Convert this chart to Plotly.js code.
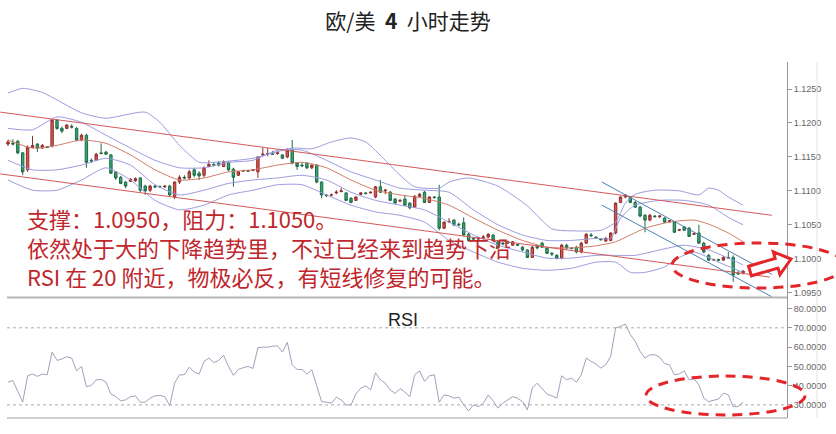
<!DOCTYPE html>
<html><head><meta charset="utf-8">
<script src="https://cdn.plot.ly/plotly-3.0.1.min.js"></script>
<style>html,body{margin:0;padding:0;background:#fff}#c{width:836px;height:434px}</style>
</head><body><div id="c"></div>
<script>
// ---- candle data (4h EUR/USD) ----
const openP  = [1.1169,1.1170,1.1173,1.1156,1.1131,1.1164,1.1169,1.1163,1.1165,1.1166,1.1204,1.1192,1.1192,1.1195,1.1192,1.1175,1.1182,1.1145,1.1145,1.1156,1.1157,1.1153,1.1128,1.1120,1.1113,1.1114,1.1115,1.1119,1.1107,1.1101,1.1107,1.1106,1.1106,1.1107,1.1091,1.1113,1.1120,1.1119,1.1131,1.1126,1.1123,1.1136,1.1139,1.1141,1.1136,1.1142,1.1132,1.1123,1.1129,1.1130,1.1130,1.1128,1.1153,1.1154,1.1155,1.1155,1.1153,1.1150,1.1160,1.1141,1.1138,1.1141,1.1134,1.1138,1.1113,1.1094,1.1094,1.1097,1.1099,1.1097,1.1089,1.1086,1.1095,1.1097,1.1097,1.1091,1.1106,1.1100,1.1098,1.1088,1.1085,1.1088,1.1082,1.1076,1.1092,1.1098,1.1083,1.1091,1.1091,1.1045,1.1054,1.1057,1.1051,1.1053,1.1036,1.1030,1.1029,1.1031,1.1032,1.1035,1.1025,1.1023,1.1025,1.1020,1.1021,1.1017,1.1013,1.1002,1.1019,1.1023,1.1016,1.1008,1.1005,1.1001,1.1020,1.1016,1.1017,1.1010,1.1023,1.1035,1.1032,1.1029,1.1026,1.1027,1.1038,1.1083,1.1091,1.1091,1.1083,1.1076,1.1064,1.1057,1.1063,1.1062,1.1060,1.1055,1.1054,1.1042,1.1047,1.1045,1.1036,1.1038,1.1023,1.1005,1.0998,1.0999,1.0998,1.1002,1.1002,1.0979,1.0979];
const highP  = [1.1175,1.1176,1.1175,1.1157,1.1167,1.1181,1.1170,1.1169,1.1166,1.1206,1.1206,1.1195,1.1198,1.1198,1.1194,1.1184,1.1184,1.1148,1.1156,1.1170,1.1159,1.1154,1.1129,1.1122,1.1114,1.1119,1.1120,1.1120,1.1109,1.1109,1.1109,1.1108,1.1108,1.1109,1.1114,1.1123,1.1123,1.1131,1.1134,1.1129,1.1136,1.1145,1.1142,1.1144,1.1145,1.1144,1.1134,1.1129,1.1131,1.1131,1.1132,1.1151,1.1164,1.1163,1.1159,1.1159,1.1154,1.1163,1.1175,1.1142,1.1141,1.1142,1.1139,1.1139,1.1114,1.1095,1.1096,1.1101,1.1104,1.1098,1.1091,1.1092,1.1098,1.1098,1.1099,1.1107,1.1116,1.1103,1.1100,1.1089,1.1088,1.1094,1.1083,1.1094,1.1097,1.1100,1.1092,1.1092,1.1109,1.1055,1.1060,1.1058,1.1053,1.1061,1.1038,1.1032,1.1032,1.1035,1.1038,1.1036,1.1027,1.1025,1.1027,1.1026,1.1022,1.1019,1.1014,1.1019,1.1020,1.1025,1.1017,1.1010,1.1007,1.1022,1.1022,1.1017,1.1019,1.1025,1.1038,1.1038,1.1033,1.1030,1.1032,1.1039,1.1083,1.1092,1.1095,1.1092,1.1085,1.1078,1.1066,1.1066,1.1064,1.1064,1.1061,1.1057,1.1055,1.1044,1.1048,1.1047,1.1038,1.1050,1.1025,1.1007,1.1000,1.1000,1.1004,1.1010,1.1005,1.0982,1.0983];
const lowP   = [1.1166,1.1167,1.1154,1.1123,1.1128,1.1163,1.1157,1.1162,1.1163,1.1164,1.1190,1.1185,1.1191,1.1192,1.1173,1.1173,1.1134,1.1141,1.1144,1.1154,1.1153,1.1125,1.1116,1.1110,1.1104,1.1113,1.1113,1.1098,1.1094,1.1098,1.1104,1.1105,1.1104,1.1091,1.1088,1.1110,1.1117,1.1117,1.1120,1.1116,1.1120,1.1135,1.1136,1.1136,1.1135,1.1129,1.1106,1.1122,1.1128,1.1128,1.1129,1.1119,1.1151,1.1151,1.1153,1.1153,1.1147,1.1148,1.1139,1.1131,1.1135,1.1132,1.1132,1.1111,1.1089,1.1091,1.1092,1.1095,1.1098,1.1085,1.1082,1.1085,1.1094,1.1095,1.1096,1.1089,1.1097,1.1095,1.1085,1.1081,1.1083,1.1078,1.1073,1.1075,1.1091,1.1082,1.1082,1.1089,1.1042,1.1044,1.1053,1.1048,1.1048,1.1033,1.1026,1.1029,1.1027,1.1030,1.1030,1.1026,1.1014,1.1020,1.1022,1.1019,1.1019,1.1011,1.1001,1.1001,1.1014,1.1016,1.1007,1.1004,1.0999,1.0999,1.1014,1.1014,1.1008,1.1008,1.1022,1.1032,1.1030,1.1027,1.1025,1.1026,1.1036,1.1082,1.1089,1.1082,1.1075,1.1061,1.1039,1.1055,1.1061,1.1060,1.1053,1.1053,1.1038,1.1041,1.1041,1.1032,1.1035,1.1022,1.1008,1.0997,1.0997,1.0996,1.0997,1.1001,1.0966,1.0976,1.0977];
const closeP = [1.1172,1.1169,1.1156,1.1128,1.1164,1.1167,1.1163,1.1167,1.1164,1.1204,1.1192,1.1188,1.1197,1.1194,1.1175,1.1182,1.1142,1.1144,1.1154,1.1155,1.1154,1.1126,1.1119,1.1111,1.1107,1.1117,1.1118,1.1101,1.1100,1.1107,1.1106,1.1106,1.1107,1.1094,1.1113,1.1120,1.1119,1.1128,1.1123,1.1122,1.1134,1.1139,1.1138,1.1138,1.1142,1.1131,1.1120,1.1128,1.1130,1.1129,1.1131,1.1150,1.1154,1.1155,1.1154,1.1156,1.1148,1.1160,1.1141,1.1136,1.1137,1.1134,1.1138,1.1113,1.1094,1.1093,1.1094,1.1098,1.1100,1.1086,1.1083,1.1091,1.1097,1.1096,1.1098,1.1106,1.1098,1.1101,1.1086,1.1082,1.1086,1.1079,1.1075,1.1092,1.1095,1.1083,1.1091,1.1090,1.1045,1.1054,1.1055,1.1050,1.1050,1.1035,1.1027,1.1029,1.1031,1.1032,1.1036,1.1027,1.1016,1.1022,1.1023,1.1025,1.1020,1.1013,1.1002,1.1017,1.1016,1.1017,1.1008,1.1007,1.1001,1.1020,1.1016,1.1015,1.1010,1.1023,1.1036,1.1034,1.1031,1.1028,1.1030,1.1038,1.1082,1.1091,1.1094,1.1083,1.1076,1.1063,1.1057,1.1064,1.1062,1.1063,1.1054,1.1056,1.1039,1.1043,1.1042,1.1033,1.1037,1.1023,1.1010,1.0998,1.0999,1.0998,1.1002,1.1001,1.0976,1.0978,1.0982];
const rsiV = [41.8,42.7,37.0,31.4,45.1,46.1,44.8,46.0,45.6,57.4,53.1,53.8,55.0,54.3,47.7,50.0,39.4,40.1,43.0,43.2,41.8,35.7,34.3,32.1,32.6,34.3,34.7,31.4,31.4,33.5,34.7,34.9,34.3,29.5,41.3,45.6,45.6,49.6,47.0,46.0,52.6,54.3,51.9,53.1,55.7,50.0,45.3,48.4,49.3,50.0,48.9,59.7,60.0,60.0,60.4,60.7,57.4,62.5,50.7,48.4,48.4,46.0,48.2,39.5,31.7,31.4,30.9,34.0,32.6,30.0,30.0,35.7,38.7,39.9,37.8,46.7,43.0,41.3,37.8,35.9,38.5,36.6,34.3,45.6,47.7,42.2,45.1,45.6,31.4,35.2,34.7,33.5,34.0,30.0,26.9,30.0,29.1,30.9,35.2,32.1,28.3,30.9,32.6,34.3,33.5,31.7,27.4,38.7,41.3,38.7,35.6,34.7,33.5,45.1,43.0,43.9,41.8,45.6,54.3,52.6,51.2,49.1,50.8,55.2,69.9,70.8,72.0,66.5,63.0,57.8,54.3,56.0,56.0,54.8,51.4,50.8,45.6,46.1,47.7,43.0,43.5,40.4,33.5,31.7,32.6,33.1,36.1,35.2,29.1,29.1,31.4];

// ---- bands (read at selected bars) ----
const bbOutUpX = [0,3,7,15,20,28,31,35,39,42,50,58,62,66,70,73,77,80,83,88,90,94,100,106,111,116,121,124,126,128,132,137,141,143,145,147,150];
const bbOutUpY = [1.1244,1.1251,1.1245,1.1215,1.1207,1.1216,1.1201,1.1167,1.1142,1.1142,1.1148,1.1163,1.1162,1.1172,1.1178,1.1172,1.1145,1.1123,1.1106,1.1104,1.1113,1.1119,1.1107,1.1078,1.1044,1.1041,1.1042,1.1054,1.1082,1.1095,1.1101,1.1100,1.1094,1.1104,1.1101,1.1091,1.1079];
const bbInUpX = [0,5,10,15,20,25,30,35,40,45,50,55,60,65,70,75,80,85,90,95,100,105,110,115,120,123,125,128,133,138,143,147,150];
const bbInUpY = [1.1192,1.1190,1.1209,1.1201,1.1182,1.1163,1.1145,1.1134,1.1134,1.1142,1.1145,1.1160,1.1160,1.1145,1.1128,1.1116,1.1104,1.1101,1.1098,1.1072,1.1050,1.1035,1.1027,1.1027,1.1030,1.1030,1.1060,1.1079,1.1086,1.1086,1.1079,1.1061,1.1050];
const maX = [0,5,10,15,20,25,30,35,40,45,50,55,60,65,70,75,80,85,90,95,100,105,110,115,120,124,127,130,135,140,143,147,150];
const maY = [1.1175,1.1163,1.1167,1.1175,1.1170,1.1153,1.1131,1.1116,1.1119,1.1128,1.1131,1.1138,1.1142,1.1134,1.1116,1.1101,1.1094,1.1089,1.1079,1.1060,1.1042,1.1027,1.1017,1.1016,1.1019,1.1025,1.1035,1.1045,1.1054,1.1057,1.1051,1.1038,1.1025];
const bbInLoX = [0,5,10,15,20,25,30,35,40,45,50,55,60,65,70,75,80,85,90,95,100,105,110,115,120,124,128,133,138,143,147,150];
const bbInLoY = [1.1145,1.1131,1.1131,1.1138,1.1148,1.1138,1.1109,1.1094,1.1101,1.1111,1.1116,1.1119,1.1123,1.1116,1.1098,1.1086,1.1079,1.1072,1.1054,1.1035,1.1020,1.1010,1.1001,1.1001,1.1005,1.1005,1.1005,1.1013,1.1020,1.1013,1.1001,1.0991];
const bbOutLoX = [0,5,10,15,20,25,30,35,40,45,50,55,60,65,70,75,80,85,90,95,100,105,110,115,120,124,127,130,134,137,140,145,150];
const bbOutLoY = [1.1116,1.1101,1.1101,1.1116,1.1134,1.1116,1.1086,1.1072,1.1079,1.1094,1.1101,1.1109,1.1109,1.1094,1.1079,1.1069,1.1064,1.1054,1.1027,1.1010,1.0995,1.0986,1.0983,1.0986,1.0995,1.0995,1.0980,1.0980,1.0988,1.1002,1.1010,1.0995,1.0980];

// ---- drawn trend lines ----
const trendUpX = [-1.6,155.9], trendUpY = [1.1216,1.1064];
const trendLoX = [-1.6,155.5], trendLoY = [1.1125,1.0973];
const chanAX = [121.2,155.9], chanAY = [1.1113,1.0977];
const chanBX = [121.2,155.9], chanBY = [1.1079,1.0944];

const priceTicks = [1.095,1.100,1.105,1.110,1.115,1.120,1.125];
const priceTickText = ['1.0950','1.1000','1.1050','1.1100','1.1150','1.1200','1.1250'];
const rsiTicks = [30,40,50,60,70,80];
const rsiTickText = ['30.0000','40.0000','50.0000','60.0000','70.0000','80.0000'];

const titleText = '欧/美\u00a0\u00a0<b>4</b>\u00a0\u00a0小时走势';
const noteLines = ['支撑：1.0950，阻力：1.1050。','依然处于大的下降趋势里，不过已经来到趋势下沿','RSI 在 20 附近，物极必反，有短线修复的可能。'];

// ---- layout geometry ----
const W=836,H=434,ML=0,MR=49,MT=62,MB=16;
const PW=W-ML-MR, PH=H-MT-MB;
const px = x => (x-ML)/PW;
const py = y => (H-MB-y)/PH;
const idx = closeP.map((_,i)=>i);

const band = (x,y,c)=>({type:'scatter',mode:'lines',x:x,y:y,line:{color:c,width:1,shape:'spline',smoothing:0.6},hoverinfo:'skip',xaxis:'x',yaxis:'y'});
const seg = (x,y,c)=>({type:'scatter',mode:'lines',x:x,y:y,line:{color:c,width:1},hoverinfo:'skip',xaxis:'x',yaxis:'y'});

const traces = [
  band(bbOutUpX,bbOutUpY,'#9b9be0'),
  band(bbInUpX,bbInUpY,'#9b9be0'),
  band(maX,maY,'#d27a66'),
  band(bbInLoX,bbInLoY,'#9b9be0'),
  band(bbOutLoX,bbOutLoY,'#9b9be0'),
  seg(trendUpX,trendUpY,'#d45a5a'),
  seg(trendLoX,trendLoY,'#d45a5a'),
  seg(chanAX,chanAY,'#4f7fae'),
  seg(chanBX,chanBY,'#4f7fae'),
  {type:'candlestick',x:idx,open:openP,high:highP,low:lowP,close:closeP,xaxis:'x',yaxis:'y',
   whiskerwidth:0,
   increasing:{line:{color:'#8e2f2c',width:1},fillcolor:'#d9534f'},
   decreasing:{line:{color:'#1f6b47',width:1},fillcolor:'#35a574'},hoverinfo:'skip'},
  {type:'scatter',mode:'lines',x:idx,y:rsiV,xaxis:'x',yaxis:'y2',line:{color:'#a99cbc',width:1},hoverinfo:'skip'}
];

// arrow geometry (pixels)
const arrowPts = [[748.6,266.2],[775.2,258.4],[773.2,251.7],[791,259],[780,274.7],[778,268],[751.4,275.8]];
const arrowPath = 'M ' + arrowPts.map(p=>px(p[0]).toFixed(4)+','+py(p[1]).toFixed(4)).join(' L ') + ' Z';

const layout = {
  width:W,height:H,margin:{l:ML,r:MR,t:MT,b:MB},
  paper_bgcolor:'#fff',plot_bgcolor:'#fff',showlegend:false,
  font:{family:'Liberation Sans, Arial, sans-serif',color:'#333'},
  title:{text:titleText,x:408/W,xanchor:'center',y:1-22/H,yanchor:'middle',
         font:{family:'Noto Sans CJK SC, sans-serif',size:21,color:'#222'}},
  xaxis:{range:[(0-8)/4.9,(787-8)/4.9],showgrid:false,zeroline:false,showticklabels:false,
         showline:false,ticks:'',rangeslider:{visible:false},fixedrange:true},
  yaxis:{domain:[py(297),1],range:[1.09437,1.12898],side:'right',showgrid:false,zeroline:false,
         tickvals:priceTicks,ticktext:priceTickText,ticks:'outside',ticklen:4,tickcolor:'#999',
         showline:true,linecolor:'#9a9a9a',linewidth:1,tickfont:{size:9,color:'#666'}},
  yaxis2:{domain:[0,py(297)],range:[23.2,86],side:'right',anchor:'x',showgrid:false,zeroline:false,
         tickvals:rsiTicks,ticktext:rsiTickText,ticks:'outside',ticklen:4,tickcolor:'#999',
         showline:true,linecolor:'#9a9a9a',linewidth:1,tickfont:{size:9,color:'#666'}},
  shapes:[
    {type:'line',xref:'paper',yref:'paper',x0:px(7),x1:1,y0:py(297.5),y1:py(297.5),line:{color:'#b5b5b5',width:2}},
    {type:'line',xref:'paper',yref:'paper',x0:px(7),x1:1,y0:py(418),y1:py(418),line:{color:'#a0a0a0',width:1}},
    {type:'line',xref:'paper',yref:'paper',x0:px(817),x1:px(817),y0:0,y1:1,line:{color:'#e2e2e2',width:1}},
    {type:'line',xref:'paper',yref:'y2',x0:px(7),x1:1,y0:70,y1:70,line:{color:'#aaaaaa',width:1,dash:'3px,3px'}},
    {type:'line',xref:'paper',yref:'y2',x0:px(7),x1:1,y0:30,y1:30,line:{color:'#aaaaaa',width:1,dash:'3px,3px'}},
    {type:'circle',xref:'paper',yref:'paper',x0:px(672),x1:px(845),y0:py(288),y1:py(243),line:{color:'#e3262a',width:3,dash:'10px,7px'}},
    {type:'circle',xref:'paper',yref:'paper',x0:px(646),x1:px(805),y0:py(415),y1:py(376),line:{color:'#e3262a',width:3,dash:'10px,7px'}},
    {type:'path',xref:'paper',yref:'paper',path:arrowPath,fillcolor:'#ffffff',line:{color:'#e3262a',width:3}}
  ],
  annotations:[
    {xref:'paper',yref:'paper',x:px(25),y:py(218),xanchor:'left',yanchor:'middle',showarrow:false,text:noteLines[0],font:{family:'Noto Sans CJK SC, sans-serif',size:22,color:'#c0272d'}},
    {xref:'paper',yref:'paper',x:px(25),y:py(247),xanchor:'left',yanchor:'middle',showarrow:false,text:noteLines[1],font:{family:'Noto Sans CJK SC, sans-serif',size:22,color:'#c0272d'}},
    {xref:'paper',yref:'paper',x:px(25),y:py(276),xanchor:'left',yanchor:'middle',showarrow:false,text:noteLines[2],font:{family:'Noto Sans CJK SC, sans-serif',size:22,color:'#c0272d'}},
    {xref:'paper',yref:'paper',x:px(403),y:py(320),xanchor:'center',yanchor:'middle',showarrow:false,text:'RSI',font:{family:'Liberation Sans, Arial, sans-serif',size:18,color:'#222'}}
  ]
};

Plotly.newPlot('c',traces,layout,{displayModeBar:false,staticPlot:true});
</script></body></html>
